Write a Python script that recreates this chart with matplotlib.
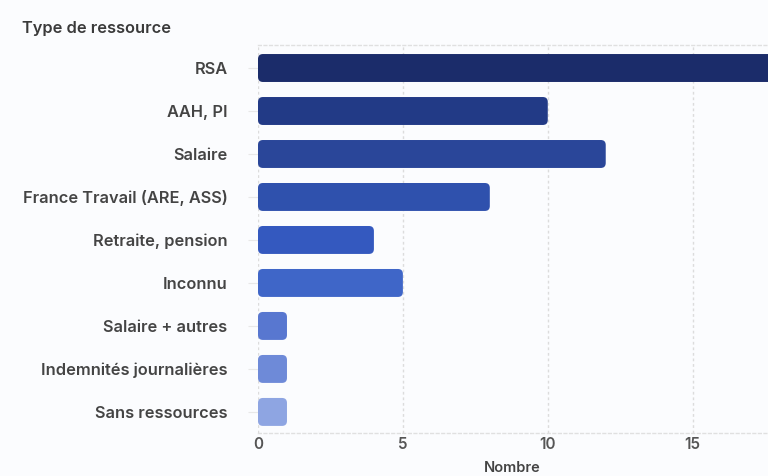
import matplotlib
matplotlib.use("Agg")
import matplotlib.pyplot as plt
from matplotlib.patches import FancyBboxPatch

categories = ["RSA", "AAH, PI", "Salaire", "France Travail (ARE, ASS)",
              "Retraite, pension", "Inconnu", "Salaire + autres",
              "Indemnités journalières", "Sans ressources"]
values = [18, 10, 12, 8, 4, 5, 1, 1, 1]
colors = ["#1b2c6a", "#223a86", "#2a4699", "#2f51ad", "#3459bf",
          "#3f66c8", "#5877d0", "#6e8ad8", "#8ea5e2"]
xticks = [0, 5, 10, 15]

plt.rcParams['font.family'] = ['Inter', 'DejaVu Sans']
bg = "#fbfcfe"
fig = plt.figure(figsize=(7.68, 4.76), dpi=100, facecolor=bg)
ax = fig.add_axes([258/768, 1-433/476, 1-258/768, (433-45)/476], facecolor=bg)

ypos = list(range(len(categories)))
bars = ax.barh(ypos, values, height=0.65, color=colors)
for b in bars:
    x, y = b.get_x(), b.get_y()
    w, h = b.get_width(), b.get_height()
    fc = b.get_facecolor()
    b.set_visible(False)
    p = FancyBboxPatch((x, y), w, h,
                       boxstyle="round,pad=0,rounding_size=0.17",
                       mutation_aspect=29/43, facecolor=fc, edgecolor="none",
                       zorder=3)
    ax.add_patch(p)

ax.set_xlim(0, 17.6)
ax.set_ylim(len(categories) - 1 + 0.49, -0.535)
ax.set_yticks(ypos)
ax.set_yticklabels(categories, fontsize=11.8, fontweight="semibold", color="#444444")
ax.set_xticks(xticks)
ax.set_xticklabels([str(t) for t in xticks], fontsize=11, fontweight="semibold", color="#555555")
ax.tick_params(axis="y", length=7, color="#e8e8e8", pad=15)
ax.tick_params(axis="x", length=0, pad=3)

ax.grid(axis="x", linestyle=(0, (2, 2)), color="#dcdcdc", linewidth=1, zorder=0)
for s in ["left", "right"]:
    ax.spines[s].set_visible(False)
for s in ["top", "bottom"]:
    ax.spines[s].set_linestyle((0, (2, 2)))
    ax.spines[s].set_color("#e0e0e0")
    ax.spines[s].set_linewidth(1)

fig.text(512/768, 1/476, "Nombre", fontsize=10.5, fontweight="semibold",
         color="#444444", va="bottom", ha="center")
fig.text(22/768, 1-28/476, "Type de ressource", fontsize=11.8, fontweight="semibold",
         color="#3a3a3a", va="center", ha="left")

fig.savefig("out.png", dpi=100, facecolor=bg)
